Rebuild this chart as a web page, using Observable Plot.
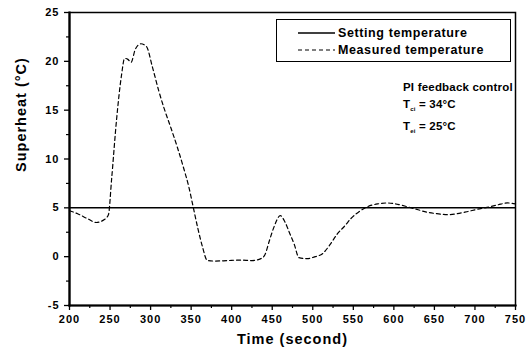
<!DOCTYPE html>
<html>
<head>
<meta charset="utf-8">
<script src="https://cdn.jsdelivr.net/npm/d3@7"></script>
<script src="https://cdn.jsdelivr.net/npm/@observablehq/plot@0.6"></script>
<style>
  html, body { margin: 0; padding: 0; background: #fff; }
  #wrap { position: relative; width: 531px; height: 353px; font-family: "Liberation Sans", Arial, sans-serif; font-weight: bold; color: #000; }
  #legend { position: absolute; left: 276px; top: 19px; width: 235px; height: 43px; border: 1.3px solid #000; box-sizing: border-box; font-size: 12.5px; letter-spacing: 0.6px; }
  .lrow { position: absolute; left: 21px; display: flex; align-items: center; white-space: nowrap; }
  .lrow svg { margin-right: 3px; }
  #note { position: absolute; left: 403px; top: 79px; font-size: 11.5px; line-height: 17px; letter-spacing: 0.2px; white-space: nowrap; }
  #note sub { font-size: 6px; vertical-align: -3px; }
</style>
</head>
<body>
<div id="wrap"></div>
<script>
// ---- data ----
const timeVals = [200, 210, 222, 233, 243, 248, 252, 258, 264, 268, 272, 276, 281, 288, 295, 302, 310, 317, 325, 333, 341, 347, 352, 358, 364, 370, 380, 395, 410, 425, 436, 441, 446, 452, 460, 466, 472, 477, 483, 493, 503, 512, 521, 530, 540, 547, 557, 567, 580, 592, 605, 617, 630, 641, 653, 666, 678, 690, 703, 715, 728, 740, 750];
const measured = [4.7, 4.4, 3.9, 3.5, 3.8, 4.3, 8.0, 14.0, 18.5, 20.3, 20.2, 19.9, 21.2, 21.8, 21.5, 19.5, 17.0, 15.1, 13.2, 11.2, 9.0, 7.2, 5.3, 3.0, 1.0, -0.4, -0.45, -0.4, -0.35, -0.4, -0.2, 0.2, 1.5, 3.0, 4.2, 3.5, 2.3, 1.3, -0.1, -0.2, 0.0, 0.3, 1.2, 2.3, 3.2, 3.9, 4.6, 5.1, 5.4, 5.5, 5.35, 5.1, 4.8, 4.55, 4.4, 4.3, 4.4, 4.6, 4.85, 5.05, 5.3, 5.5, 5.4];
const settingValue = 5;
const xTicks = [200, 250, 300, 350, 400, 450, 500, 550, 600, 650, 700, 750];
const xMinor = [225, 275, 325, 375, 425, 475, 525, 575, 625, 675, 725];
const yTicks = [-5, 0, 5, 10, 15, 20, 25];
const yMinor = [-2.5, 2.5, 7.5, 12.5, 17.5, 22.5];
const legendLabels = ["Setting temperature", "Measured temperature"];
const xLabel = "Time (second)";
const yLabel = "Superheat (°C)";

const data = timeVals.map((t, i) => ({t, v: measured[i]}));

const chart = Plot.plot({
  width: 531,
  height: 353,
  marginLeft: 69,
  marginRight: 16,
  marginTop: 12,
  marginBottom: 48,
  style: {fontFamily: "'Liberation Sans', Arial, sans-serif", fontWeight: "bold", fontSize: "11px", background: "#fff", color: "#000"},
  x: {domain: [200, 750]},
  y: {domain: [-5, 25]},
  marks: [
    Plot.axisX({ticks: xTicks, tickSize: 5, tickPadding: 5, tickFormat: d => d, label: null, fontSize: 11, fontWeight: "bold", stroke: "#000", strokeWidth: 1.3}),
    Plot.axisX({ticks: xMinor, tickSize: 3, tickFormat: () => "", label: null, stroke: "#000", strokeWidth: 1.2}),
    Plot.axisY({ticks: yTicks, tickSize: 5, tickPadding: 5, tickFormat: d => d, label: null, fontSize: 11, fontWeight: "bold", stroke: "#000", strokeWidth: 1.3}),
    Plot.axisY({ticks: yMinor, tickSize: 3, tickFormat: () => "", label: null, stroke: "#000", strokeWidth: 1.2}),
    Plot.frame({stroke: "#000", strokeWidth: 1.5}),
    Plot.frame({anchor: "left", stroke: "#000", strokeWidth: 2.2}),
    Plot.frame({anchor: "bottom", stroke: "#000", strokeWidth: 2.2}),
    Plot.ruleY([settingValue], {x1: 200, x2: 750, stroke: "#000", strokeWidth: 1.5}),
    Plot.line(data, {x: "t", y: "v", stroke: "#000", strokeWidth: 1.2, strokeDasharray: "4,3", curve: "monotone-x"}),
    Plot.text([xLabel], {frameAnchor: "bottom", dy: 38, fontSize: 14.5, fontWeight: "bold", text: d => d, fill: "#000"}),
    Plot.text([yLabel], {frameAnchor: "left", dx: -48, dy: 13, rotate: -90, fontSize: 14.5, fontWeight: "bold", text: d => d, fill: "#000"})
  ]
});
chart.querySelectorAll("text").forEach(t => t.style.letterSpacing = "1px");

const wrap = document.getElementById("wrap");
wrap.appendChild(chart);

const legend = document.createElement("div");
legend.id = "legend";
legend.innerHTML = `
  <div class="lrow" style="top:6px"><svg width="37" height="6"><line x1="0" y1="3" x2="37" y2="3" stroke="#000" stroke-width="1.5"/></svg>${legendLabels[0]}</div>
  <div class="lrow" style="top:23px"><svg width="37" height="6"><line x1="0" y1="3" x2="37" y2="3" stroke="#000" stroke-width="1.2" stroke-dasharray="4,3"/></svg>${legendLabels[1]}</div>`;
wrap.appendChild(legend);

const note = document.createElement("div");
note.id = "note";
note.innerHTML = `PI feedback control<br>T<sub>ci</sub> = 34°C<br>T<sub>ei</sub> = 25°C`;
wrap.appendChild(note);
</script>
</body>
</html>
